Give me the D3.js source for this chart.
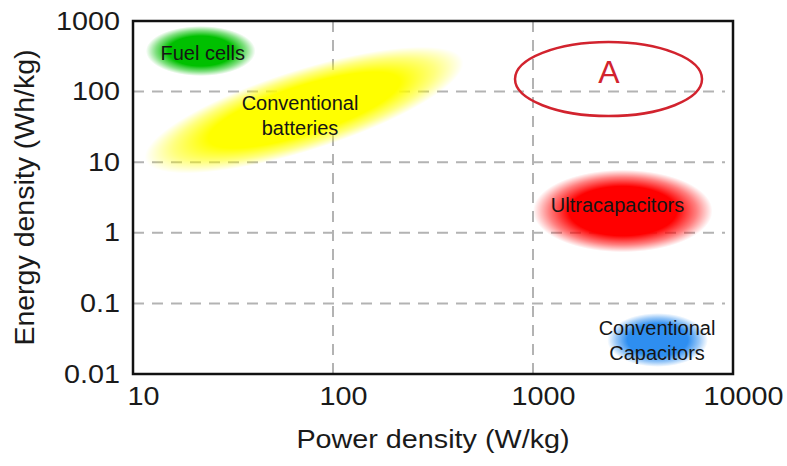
<!DOCTYPE html>
<html>
<head>
<meta charset="utf-8">
<script src="https://cdnjs.cloudflare.com/ajax/libs/d3/7.8.5/d3.min.js"></script>
<style>
  body { margin: 0; background: #fff; }
  text { font-family: "Liberation Sans", Arial, sans-serif; }
</style>
</head>
<body>
<svg id="canvas" width="787" height="466"></svg>
<script>
// axis ticks
let powerTicks = [10, 100, 1000, 10000]
let energyTicks = [0.01, 0.1, 1, 10, 100, 1000]
let energyTickLabels = ['0.01', '0.1', '1', '10', '100', '1000']

// regions (W/kg, Wh/kg)
let regionNames = ['Fuel cells', 'Ultracapacitors', 'Conventional Capacitors']
let regionPower = [[11.6, 41], [1000, 7900], [2350, 7500]]
let regionEnergy = [[166, 850], [0.53, 7.8], [0.0126, 0.073]]
let regionColors = ['#00c000', '#ff0000', '#2e8ef0']

// batteries are a tilted band: lower-left end, upper-right end, energy span at the middle
let batteryEnds = [[11.5, 10.7], [447, 280]]
let batteryMidEnergy = [15, 240]
let batteryColor = '#ffff00'

// labels (centre of text block)
let labelText = [['Fuel cells'], ['Conventional', 'batteries'], ['Ultracapacitors'], ['Conventional', 'Capacitors']]
let labelPower = [22.3, 68.4, 2645, 4169]
let labelEnergy = [347, 46.6, 2.44, 0.0303]

// circled region "A"
let markPower = [813, 7000]
let markEnergy = [45, 504]
let markLabel = 'A'
let markLabelAt = [2400, 193]

let canvas = d3.select('#canvas')

let x = d3.scaleLog().domain([10, 10000]).range([133, 733])
let y = d3.scaleLog().domain([0.01, 1000]).range([374, 21])

// the text in the picture is a bit wider than normal
let widen = sel => sel.each(function () {
    let w = this.getComputedTextLength()
    d3.select(this).attr('textLength', w * 1.15).attr('lengthAdjust', 'spacingAndGlyphs')
})

let defs = canvas.append('defs')
let addGrad = (id, color) => {
    let g = defs.append('radialGradient').attr('id', id)
    g.append('stop').attr('offset', 0).attr('stop-color', color).attr('stop-opacity', 1)
    g.append('stop').attr('offset', 0.6).attr('stop-color', color).attr('stop-opacity', 1)
    g.append('stop').attr('offset', 0.82).attr('stop-color', color).attr('stop-opacity', 0.5)
    g.append('stop').attr('offset', 1).attr('stop-color', color).attr('stop-opacity', 0)
}
regionColors.forEach((c, i) => addGrad('grad' + i, c))
addGrad('gradBat', batteryColor)

// grid
let grid = canvas.append('g')
    .attr('stroke', '#b3b3b3')
    .attr('stroke-width', 2)
    .attr('stroke-dasharray', '11,8')

grid.selectAll('.hline')
    .data(energyTicks.slice(1, -1))
    .enter()
    .append('line')
    .attr('x1', x(10))
    .attr('x2', x(10000) - 8)
    .attr('y1', d => y(d))
    .attr('y2', d => y(d))

grid.selectAll('.vline')
    .data(powerTicks.slice(1, -1))
    .enter()
    .append('line')
    .attr('x1', d => x(d))
    .attr('x2', d => x(d))
    .attr('y1', y(1000))
    .attr('y2', y(0.01) + 3)

// batteries
let p0 = [x(batteryEnds[0][0]), y(batteryEnds[0][1])]
let p1 = [x(batteryEnds[1][0]), y(batteryEnds[1][1])]
let ang = Math.atan2(p1[1] - p0[1], p1[0] - p0[0])
let vh = (y(batteryMidEnergy[0]) - y(batteryMidEnergy[1])) / 2

canvas.append('ellipse')
    .attr('transform', 'translate(' + (p0[0] + p1[0]) / 2 + ',' + (p0[1] + p1[1]) / 2 + ') rotate(' + ang * 180 / Math.PI + ')')
    .attr('rx', Math.hypot(p1[0] - p0[0], p1[1] - p0[1]) / 2)
    .attr('ry', vh * Math.cos(ang))
    .attr('fill', 'url(#gradBat)')

// other regions
canvas.selectAll('.blob')
    .data(regionNames)
    .enter()
    .append('ellipse')
    .attr('class', 'blob')
    .attr('cx', (d, i) => (x(regionPower[i][0]) + x(regionPower[i][1])) / 2)
    .attr('cy', (d, i) => (y(regionEnergy[i][0]) + y(regionEnergy[i][1])) / 2)
    .attr('rx', (d, i) => (x(regionPower[i][1]) - x(regionPower[i][0])) / 2)
    .attr('ry', (d, i) => (y(regionEnergy[i][0]) - y(regionEnergy[i][1])) / 2)
    .attr('fill', (d, i) => 'url(#grad' + i + ')')

// labels
let labels = canvas.selectAll('.label')
    .data(labelText)
    .enter()
    .append('text')
    .attr('class', 'label')
    .attr('font-size', 20)
    .attr('fill', '#151515')
    .attr('text-anchor', 'middle')
    .attr('transform', (d, i) => 'translate(' + x(labelPower[i]) + ',' + y(labelEnergy[i]) + ')')

labels.selectAll('tspan')
    .data(d => d)
    .enter()
    .append('tspan')
    .attr('x', 0)
    .attr('y', (t, j, arr) => (j - (arr.length - 1) / 2) * 25 + 7)
    .text(t => t)

// region A
canvas.append('ellipse')
    .attr('cx', (x(markPower[0]) + x(markPower[1])) / 2)
    .attr('cy', (y(markEnergy[0]) + y(markEnergy[1])) / 2)
    .attr('rx', (x(markPower[1]) - x(markPower[0])) / 2)
    .attr('ry', (y(markEnergy[0]) - y(markEnergy[1])) / 2)
    .attr('fill', 'none')
    .attr('stroke', '#d2232e')
    .attr('stroke-width', 2.5)

canvas.append('text')
    .attr('x', x(markLabelAt[0]))
    .attr('y', y(markLabelAt[1]) + 11.5)
    .attr('text-anchor', 'middle')
    .attr('font-size', 32)
    .attr('fill', '#d2232e')
    .text(markLabel)

// axes
let xAxis = d3.axisBottom(x)
    .tickValues(powerTicks)
    .tickFormat(d3.format('d'))
    .tickSize(0)
    .tickPadding(13)

let yAxis = d3.axisLeft(y)
    .tickValues(energyTicks)
    .tickFormat((d, i) => energyTickLabels[i])
    .tickSize(0)
    .tickPadding(13)

let gx = canvas.append('g')
    .attr('transform', 'translate(0,' + y(0.01) + ')')
    .call(xAxis)
let gy = canvas.append('g')
    .attr('transform', 'translate(' + x(10) + ',0)')
    .call(yAxis)

;[gx, gy].forEach(g => {
    g.select('.domain').remove()
    g.attr('font-size', 25).attr('font-family', '"Liberation Sans", Arial, sans-serif')
    g.selectAll('text').attr('fill', '#1a1a1a')
})
gx.selectAll('text').attr('dx', 10)
widen(gx.selectAll('text'))
widen(gy.selectAll('text'))

// frame
canvas.append('rect')
    .attr('x', x(10))
    .attr('y', y(1000))
    .attr('width', x(10000) - x(10))
    .attr('height', y(0.01) - y(1000))
    .attr('fill', 'none')
    .attr('stroke', '#111')
    .attr('stroke-width', 2.5)

// titles
canvas.append('text')
    .attr('x', (x(10) + x(10000)) / 2)
    .attr('y', 448)
    .attr('text-anchor', 'middle')
    .attr('font-size', 25)
    .attr('fill', '#1a1a1a')
    .text('Power density (W/kg)')
    .call(widen)

canvas.append('text')
    .attr('transform', 'translate(34,' + (y(0.01) + y(1000)) / 2 + ') rotate(-90)')
    .attr('text-anchor', 'middle')
    .attr('font-size', 28.5)
    .attr('fill', '#1a1a1a')
    .text('Energy density (Wh/kg)')
</script>
</body>
</html>
